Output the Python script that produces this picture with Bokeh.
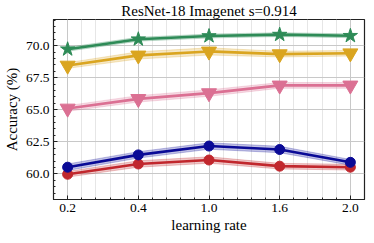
import numpy as np
from bokeh.plotting import figure
from bokeh.models import Range1d, FixedTicker, PrintfTickFormatter
from bokeh.embed import file_html
from bokeh.resources import INLINE

# ---- data ----
lr_labels = ["0.2", "0.4", "1.0", "1.6", "2.0"]
green_vals = [69.72, 70.50, 70.75, 70.86, 70.77]
green_std = [0.15, 0.15, 0.15, 0.15, 0.15]
gold_vals = [68.45, 69.24, 69.55, 69.34, 69.41]
gold_std = [0.22, 0.28, 0.28, 0.22, 0.22]
pink_vals = [65.10, 65.85, 66.30, 66.90, 66.90]
pink_std = [0.22, 0.25, 0.25, 0.22, 0.22]
blue_vals = [60.52, 61.48, 62.17, 61.90, 60.90]
blue_std = [0.25, 0.25, 0.25, 0.25, 0.22]
red_vals = [59.97, 60.77, 61.08, 60.60, 60.52]
red_std = [0.22, 0.25, 0.25, 0.22, 0.22]
title_text = "ResNet-18 Imagenet s=0.914"

series = [
    (red_vals, red_std, "#C1272D", "circle", 10),
    (blue_vals, blue_std, "#0A0A96", "circle", 10),
    (pink_vals, pink_std, "#DB7093", "inverted_triangle", 15),
    (gold_vals, gold_std, "#DAA520", "inverted_triangle", 15),
    (green_vals, green_std, "#2E8B57", "star", 15),
]

FONT = "Liberation Serif"
xs = list(range(len(lr_labels)))
Y0, Y1 = 58.0, 72.04

p = figure(frame_width=311, frame_height=180, output_backend="svg",
           toolbar_location=None, x_range=Range1d(-0.2, 4.2),
           y_range=Range1d(Y0, Y1), title=title_text,
           min_border_left=4, min_border_right=3, min_border_top=2,
           min_border_bottom=4)
p.background_fill_color = "white"
p.border_fill_color = "white"
p.outline_line_color = "#222222"
p.outline_line_width = 1.2

p.title.text_font = FONT
p.title.text_font_style = "normal"
p.title.text_font_size = "15px"
p.title.text_color = "black"
p.title.align = "center"
p.title.standoff = 1
p.title.offset = 0

for vals, std, col, marker, size in series:
    lo = [v - s for v, s in zip(vals, std)]
    hi = [v + s for v, s in zip(vals, std)]
    p.varea(x=xs, y1=lo, y2=hi, fill_color=col, fill_alpha=0.25)
    p.line(xs, lo, line_color=col, line_alpha=0.25, line_width=1)
    p.line(xs, hi, line_color=col, line_alpha=0.25, line_width=1)
    p.line(xs, vals, line_color=col, line_width=2.6)
    p.scatter(xs, vals, marker=marker, size=size, fill_color=col,
              line_color=col)

# axes
p.xaxis.ticker = FixedTicker(ticks=xs,
                             minor_ticks=list(np.round(np.arange(-0.2, 4.21, 0.2), 2)))
p.xaxis.major_label_overrides = {i: t for i, t in zip(xs, lr_labels)}
p.yaxis.ticker = FixedTicker(ticks=[60, 62.5, 65, 67.5, 70],
                             minor_ticks=list(np.arange(58, 72.01, 0.5)))
p.yaxis.formatter = PrintfTickFormatter(format="%.1f")
p.xaxis.axis_label = "learning rate"
p.yaxis.axis_label = "Accuracy (%)"
for ax in (p.xaxis, p.yaxis):
    ax.axis_label_text_font = FONT
    ax.axis_label_text_font_style = "normal"
    ax.axis_label_text_font_size = "15px"
    ax.axis_label_text_color = "black"
    ax.major_label_text_font = FONT
    ax.major_label_text_font_size = "13.5px"
    ax.major_label_text_color = "black"
    ax.axis_line_color = "#222222"
    ax.major_tick_line_color = "#222222"
    ax.minor_tick_line_color = "#222222"
    ax.major_tick_in = 4
    ax.major_tick_out = 0
    ax.minor_tick_in = 2
    ax.minor_tick_out = 0
    ax.major_label_standoff = 4
p.xaxis.axis_label_standoff = 2
p.yaxis.axis_label_standoff = 3

p.xgrid.grid_line_color = "#c8c8c8"
p.xgrid.minor_grid_line_color = "#e6e6e6"
p.ygrid.grid_line_color = "#c8c8c8"

open("out.html", "w").write(file_html(p, INLINE))
